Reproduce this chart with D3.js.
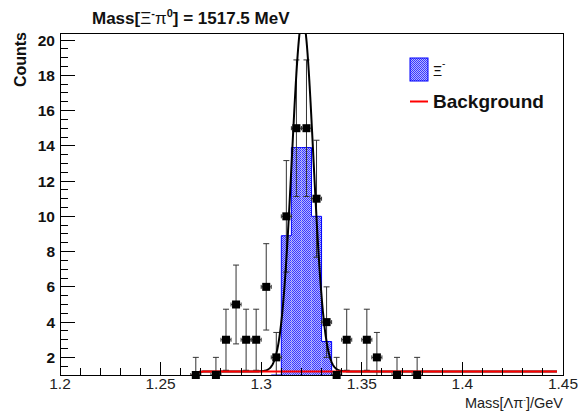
<!DOCTYPE html>
<html>
<head>
<meta charset="utf-8">
<script src="https://cdn.jsdelivr.net/npm/d3@7/dist/d3.min.js"></script>
<style>
  html, body { margin: 0; padding: 0; background: #fff; }
  svg { display: block; font-family: "Liberation Sans", Arial, Helvetica, sans-serif; }
</style>
</head>
<body>
<svg id="chart" width="578" height="412"></svg>
<script>
// Data points: bin centres (GeV) and event counts
const binCenters = [1.2675, 1.2775, 1.2825, 1.2875, 1.2925, 1.2975, 1.3025, 1.3075, 1.3125,
                    1.3175, 1.3225, 1.3275, 1.3325, 1.3375, 1.3425, 1.3525, 1.3575, 1.3675, 1.3775];
const counts     = [1, 1, 3, 5, 3, 3, 6, 2, 10, 15, 15, 11, 4, 1, 3, 3, 2, 1, 1];
const binWidth = 0.005;

// Signal template histogram: lower bin edges and contents
const sigBinLow  = [1.305, 1.31, 1.315, 1.32, 1.325, 1.33, 1.335];
const sigValues  = [0.5, 8.9, 13.9, 13.9, 10.0, 2.9, 0.5];

// Fit results: Gaussian peak on top of a threshold background
const gausAmp = 20.0, gausMean = 1.3206, gausSigma = 0.00535;
const bkgLevel = 1.2, bkgThreshold = 1.2633, bkgRise = 0.0015, fitMax = 1.447;

// Axis settings
const xDomain = [1.2, 1.45];
const yDomain = [1, 20.4];
const xMajorTicks = [1.2, 1.25, 1.3, 1.35, 1.4, 1.45];
const xTickLabels = ["1.2", "1.25", "1.3", "1.35", "1.4", "1.45"];
const yMajorTicks = [2, 4, 6, 8, 10, 12, 14, 16, 18, 20];

const svg = d3.select("#chart");
const frame = { left: 60, right: 563, top: 33, bottom: 375 };

const x = d3.scaleLinear().domain(xDomain).range([frame.left, frame.right]);
const y = d3.scaleLinear().domain(yDomain).range([frame.bottom, frame.top]);

const defs = svg.append("defs");
defs.append("clipPath").attr("id", "frameClip")
  .append("rect")
  .attr("x", frame.left).attr("y", frame.top)
  .attr("width", frame.right - frame.left).attr("height", frame.bottom - frame.top);

// Checker fill for the signal histogram
const pat = defs.append("pattern").attr("id", "checker")
  .attr("patternUnits", "userSpaceOnUse").attr("width", 2).attr("height", 2);
pat.append("rect").attr("width", 2).attr("height", 2).attr("fill", "#b4b4ff");
pat.append("rect").attr("x", 0).attr("y", 0).attr("width", 1).attr("height", 1).attr("fill", "#3a3aff");
pat.append("rect").attr("x", 1).attr("y", 1).attr("width", 1).attr("height", 1).attr("fill", "#3a3aff");

const plot = svg.append("g").attr("clip-path", "url(#frameClip)");

// Signal histogram
const clampY = v => y(Math.max(yDomain[0], Math.min(yDomain[1], v)));
plot.append("g").selectAll("rect").data(sigValues).join("rect")
  .attr("x", (d, i) => x(sigBinLow[i]))
  .attr("width", (d, i) => x(sigBinLow[i] + binWidth) - x(sigBinLow[i]))
  .attr("y", d => clampY(d))
  .attr("height", d => frame.bottom - clampY(d))
  .attr("fill", "url(#checker)");

// Histogram outline as a step path
const steps = [];
sigValues.forEach((v, i) => {
  steps.push([x(sigBinLow[i]), clampY(v)]);
  steps.push([x(sigBinLow[i] + binWidth), clampY(v)]);
});
steps.unshift([x(sigBinLow[0]), frame.bottom]);
steps.push([x(sigBinLow[sigBinLow.length - 1] + binWidth), frame.bottom]);
plot.append("path")
  .attr("d", d3.line()(steps))
  .attr("fill", "none").attr("stroke", "#0000ff").attr("stroke-width", 1);

// Fit functions
const bkg = m => m <= bkgThreshold ? 0 : bkgLevel * (1 - Math.exp(-(m - bkgThreshold) / bkgRise));
const gaus = m => gausAmp * Math.exp(-0.5 * Math.pow((m - gausMean) / gausSigma, 2));
const total = m => gaus(m) + bkg(m);

const nSamp = 1200;
const grid = d3.range(nSamp + 1).map(i => bkgThreshold + (fitMax - bkgThreshold) * i / nSamp);
const curve = f => d3.line().x(m => x(m)).y(m => y(f(m)))(grid);

// Data error bars
const pts = plot.append("g");
const errCol = "#333";
counts.forEach((c, i) => {
  const cx = x(binCenters[i]), cy = y(c);
  const e = Math.sqrt(c);
  const yTop = y(c + e), yBot = y(c - e);
  const xl = x(binCenters[i] - binWidth / 2), xr = x(binCenters[i] + binWidth / 2);
  const g = pts.append("g").attr("stroke", errCol).attr("stroke-width", 1).attr("fill", "none");
  g.append("line").attr("x1", cx).attr("x2", cx).attr("y1", yTop).attr("y2", yBot);
  g.append("line").attr("x1", cx - 3).attr("x2", cx + 3).attr("y1", yTop).attr("y2", yTop);
  g.append("line").attr("x1", cx - 3).attr("x2", cx + 3).attr("y1", yBot).attr("y2", yBot);
  g.append("line").attr("x1", xl).attr("x2", xr).attr("y1", cy).attr("y2", cy);
  g.append("line").attr("x1", xl).attr("x2", xl).attr("y1", cy - 2).attr("y2", cy + 2);
  g.append("line").attr("x1", xr).attr("x2", xr).attr("y1", cy - 2).attr("y2", cy + 2);
});

// Total fit curve and background
plot.append("path").attr("d", curve(total))
  .attr("fill", "none").attr("stroke", "#000").attr("stroke-width", 2);
plot.append("path").attr("d", curve(bkg))
  .attr("fill", "none").attr("stroke", "#ff0000").attr("stroke-width", 2);

// Markers (not clipped, so those at the minimum sit across the axis)
svg.append("g").selectAll("rect").data(counts).join("rect")
  .attr("x", (d, i) => x(binCenters[i]) - 4)
  .attr("y", d => y(d) - 4)
  .attr("width", 8).attr("height", 8)
  .attr("fill", "#000");

// Frame
svg.append("rect")
  .attr("x", frame.left).attr("y", frame.top)
  .attr("width", frame.right - frame.left).attr("height", frame.bottom - frame.top)
  .attr("fill", "none").attr("stroke", "#000").attr("stroke-width", 1)
  .attr("shape-rendering", "crispEdges");

// X axis ticks (drawn inward) and labels
const xAxis = svg.append("g").attr("stroke", "#000").attr("shape-rendering", "crispEdges");
d3.range(0, 26).map(i => 1.2 + i * 0.01).forEach((t, i) => {
  const major = i % 5 === 0;
  xAxis.append("line").attr("x1", x(t)).attr("x2", x(t))
    .attr("y1", frame.bottom).attr("y2", frame.bottom - (major ? 13 : 7));
});
svg.append("g").selectAll("text").data(xMajorTicks).join("text")
  .attr("x", d => x(d)).attr("y", 389)
  .attr("text-anchor", "middle").attr("font-size", 15.5).attr("fill", "#222")
  .text((d, i) => xTickLabels[i]);

// Y axis ticks (drawn inward) and labels
const yAxis = svg.append("g").attr("stroke", "#000").attr("shape-rendering", "crispEdges");
d3.range(1.5, 20.41, 0.5).forEach(t => {
  const major = Math.abs(t % 2) < 1e-6;
  yAxis.append("line").attr("x1", frame.left).attr("x2", frame.left + (major ? 15 : 8))
    .attr("y1", y(t)).attr("y2", y(t));
});
svg.append("g").selectAll("text").data(yMajorTicks).join("text")
  .attr("x", 55).attr("y", d => y(d) + 5.5)
  .attr("text-anchor", "end").attr("font-size", 15.5).attr("font-weight", "bold").attr("fill", "#111")
  .text(d => d);

// Axis titles
const xt = svg.append("text").attr("x", frame.right).attr("y", 408)
  .attr("text-anchor", "end").attr("font-size", 14.5).attr("fill", "#222");
xt.append("tspan").text("Mass[Λπ");
xt.append("tspan").attr("font-size", 8).attr("dy", -6).text("-");
xt.append("tspan").attr("dy", 6).text("]/GeV");

svg.append("text")
  .attr("transform", "translate(26,32) rotate(-90)")
  .attr("text-anchor", "end").attr("font-size", 16).attr("font-weight", "bold").attr("fill", "#111")
  .text("Counts");

// Title
const title = svg.append("text").attr("x", 92).attr("y", 24)
  .attr("font-size", 17).attr("font-weight", "bold").attr("fill", "#111");
title.append("tspan").text("Mass[");
title.append("tspan").attr("font-weight", "normal").text("Ξ");
title.append("tspan").attr("font-size", 11).attr("dy", -7).text("-");
title.append("tspan").attr("font-weight", "normal").attr("dy", 7).text("π");
title.append("tspan").attr("font-size", 11).attr("dy", -7).text("0");
title.append("tspan").attr("dy", 7).text("] = 1517.5 MeV");

// Legend
const legend = svg.append("g");
legend.append("rect").attr("x", 410).attr("y", 58).attr("width", 18).attr("height", 23)
  .attr("fill", "url(#checker)").attr("stroke", "#0000ff").attr("stroke-width", 1);
const lx = legend.append("text").attr("x", 433).attr("y", 76).attr("font-size", 14).attr("fill", "#111");
lx.append("tspan").text("Ξ");
lx.append("tspan").attr("font-size", 10).attr("dy", -9).text("-");
legend.append("line").attr("x1", 410).attr("x2", 428).attr("y1", 101.5).attr("y2", 101.5)
  .attr("stroke", "#ff0000").attr("stroke-width", 2);
legend.append("text").attr("x", 433).attr("y", 108).attr("font-size", 19).attr("font-weight", "bold")
  .attr("fill", "#111").text("Background");
</script>
</body>
</html>
